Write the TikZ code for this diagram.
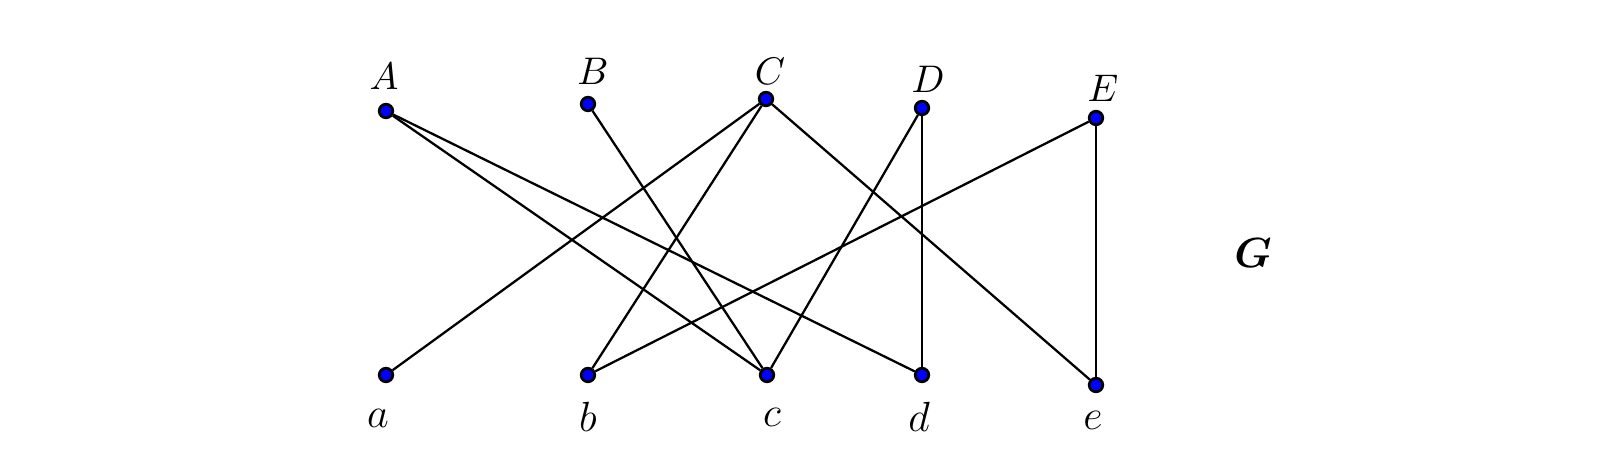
\documentclass[tikz,border=0pt]{standalone}
\usepackage{amsmath}
\usepackage{amssymb}
\usepackage{xcolor}
\usepackage{tikz}
\usetikzlibrary{positioning}

\begin{document}
\begin{tikzpicture}[
  vertex/.style={circle, draw, fill=blue, line width=0.8pt, inner sep=0pt, minimum size=0.135cm},
  edge/.style={line width=0.65pt},
  toplabel/.style={font=\fontsize{10.5}{12}\selectfont, inner sep=0pt},
  botlabel/.style={font=\fontsize{13}{15}\selectfont, inner sep=0pt}
]
\useasboundingbox (0,0) rectangle (16.24,4.68);
% upper row
\node[vertex] (A) at (3.86,3.57) {};
\node[vertex] (B) at (5.88,3.64) {};
\node[vertex] (C) at (7.66,3.69) {};
\node[vertex] (D) at (9.22,3.60) {};
\node[vertex] (E) at (10.96,3.50) {};
% lower row
\node[vertex] (a) at (3.86,0.93) {};
\node[vertex] (b) at (5.88,0.93) {};
\node[vertex] (c) at (7.67,0.93) {};
\node[vertex] (d) at (9.22,0.93) {};
\node[vertex] (e) at (10.96,0.83) {};
% labels
\node[toplabel] (labA) at (3.84,3.92) {$A$};
\node[toplabel] (labB) at (5.93,3.97) {$B$};
\node[toplabel] (labC) at (7.70,3.97) {$C$};
\node[toplabel] (labD) at (9.28,3.89) {$D$};
\node[toplabel] (labE) at (11.03,3.80) {$E$};
\node[botlabel] (laba) at (3.78,0.50) {$a$};
\node[botlabel] (labb) at (5.88,0.51) {$b$};
\node[botlabel] (labc) at (7.72,0.51) {$c$};
\node[botlabel] (labd) at (9.19,0.51) {$d$};
\node[botlabel] (labe) at (10.93,0.48) {$e$};
\node[font=\fontsize{13}{15}\selectfont] (G) at (12.53,2.15) {$\boldsymbol{G}$};
% edges
\draw[edge] (A) -- (c);
\draw[edge] (A) -- (d);
\draw[edge] (B) -- (c);
\draw[edge] (C) -- (a);
\draw[edge] (C) -- (b);
\draw[edge] (C) -- (e);
\draw[edge] (D) -- (c);
\draw[edge] (D) -- (d);
\draw[edge] (E) -- (b);
\draw[edge] (E) -- (e);
\end{tikzpicture}
\end{document}
